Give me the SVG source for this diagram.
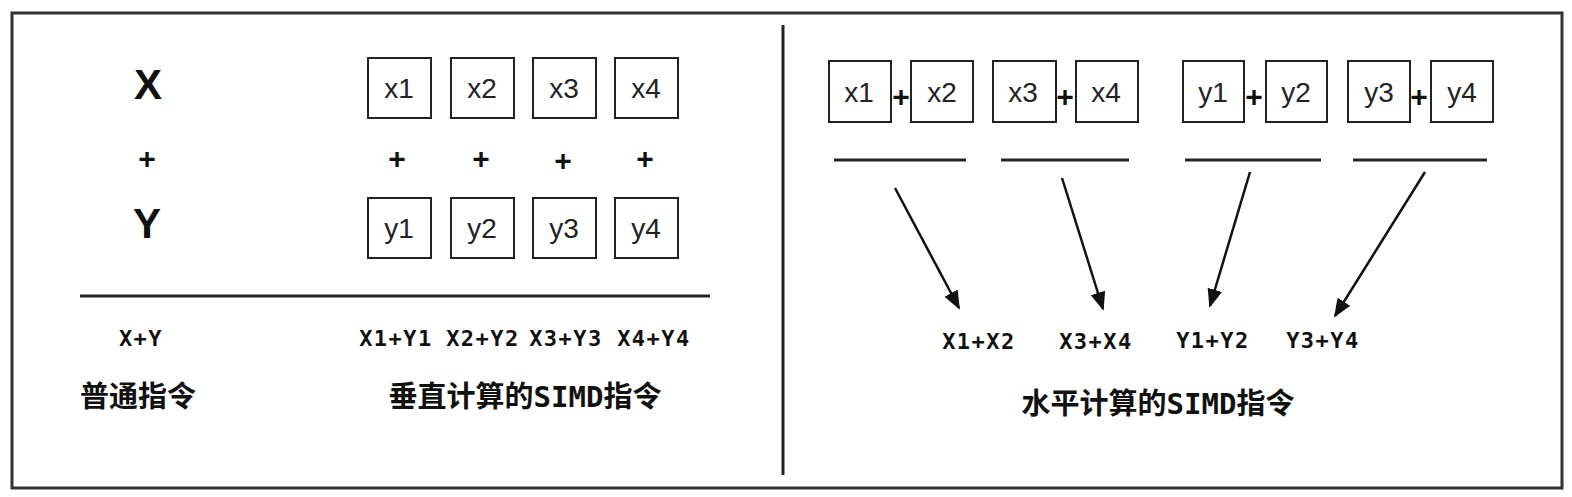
<svg xmlns="http://www.w3.org/2000/svg" width="1572" height="497" viewBox="0 0 1572 497">
<defs>
<style>
.box{fill:#fff;stroke:#222;stroke-width:2}
.bt{font-family:"Liberation Sans",Arial,sans-serif;font-size:28px;fill:#222;text-anchor:middle}
.big{font-family:"Liberation Sans",Arial,sans-serif;font-size:42px;font-weight:bold;fill:#111;text-anchor:middle}
.plus{font-family:"Liberation Sans",Arial,sans-serif;font-size:30px;font-weight:bold;fill:#111;text-anchor:middle}
.lbl{font-family:"DejaVu Sans Mono",monospace;font-size:22px;font-weight:bold;letter-spacing:1.5px;fill:#111;text-anchor:middle}
.cn{font-family:"DejaVu Sans Mono","Noto Sans CJK SC",sans-serif;font-size:29px;font-weight:bold;fill:#111;text-anchor:middle}
.ln{stroke:#222;stroke-width:3;fill:none}
.arr{stroke:#111;stroke-width:2.5;fill:none;marker-end:url(#ah)}
</style>
<marker id="ah" viewBox="0 0 10 10" refX="9" refY="5" markerWidth="7.5" markerHeight="7.5" orient="auto" markerUnits="strokeWidth">
<path d="M0,1 L10,5 L0,9 z" fill="#111"/>
</marker>
</defs>
<rect width="1572" height="497" fill="#fff"/>
<rect x="12" y="13" width="1550" height="475" fill="none" stroke="#333" stroke-width="3"/>
<line x1="783" y1="25" x2="783" y2="475" stroke="#222" stroke-width="3"/>

<g id="left-labels">
<text class="big" x="148" y="99">X</text>
<text class="plus" x="147" y="169">+</text>
<text class="big" x="147" y="238">Y</text>
</g>
<g id="lx1"><rect class="box" x="368" y="58" width="63" height="60"/><text class="bt" x="399" y="98">x1</text></g>
<g id="lx2"><rect class="box" x="451" y="58" width="63" height="60"/><text class="bt" x="482" y="98">x2</text></g>
<g id="lx3"><rect class="box" x="533" y="58" width="63" height="60"/><text class="bt" x="564" y="98">x3</text></g>
<g id="lx4"><rect class="box" x="615" y="58" width="63" height="60"/><text class="bt" x="646" y="98">x4</text></g>
<g id="lplus">
<text class="plus" x="397" y="169">+</text>
<text class="plus" x="481" y="169">+</text>
<text class="plus" x="563" y="171">+</text>
<text class="plus" x="645" y="169">+</text>
</g>
<g id="ly1"><rect class="box" x="368" y="198" width="63" height="60"/><text class="bt" x="399" y="238">y1</text></g>
<g id="ly2"><rect class="box" x="451" y="198" width="63" height="60"/><text class="bt" x="482" y="238">y2</text></g>
<g id="ly3"><rect class="box" x="533" y="198" width="63" height="60"/><text class="bt" x="564" y="238">y3</text></g>
<g id="ly4"><rect class="box" x="615" y="198" width="63" height="60"/><text class="bt" x="646" y="238">y4</text></g>
<line class="ln" x1="80" y1="296" x2="710" y2="296"/>
<g id="left-results">
<text class="lbl" x="141" y="346">X+Y</text>
<text class="lbl" x="396" y="346">X1+Y1</text>
<text class="lbl" x="483" y="346">X2+Y2</text>
<text class="lbl" x="566" y="346">X3+Y3</text>
<text class="lbl" x="654" y="346">X4+Y4</text>
<text class="cn" x="138" y="407">普通指令</text>
<text class="cn" x="525" y="407">垂直计算的SIMD指令</text>
</g>

<g id="rx1"><rect class="box" x="829" y="61" width="62" height="61"/><text class="bt" x="859" y="102">x1</text></g>
<g id="rx2"><rect class="box" x="911" y="61" width="62" height="61"/><text class="bt" x="942" y="102">x2</text></g>
<g id="rx3"><rect class="box" x="993" y="61" width="63" height="61"/><text class="bt" x="1023" y="102">x3</text></g>
<g id="rx4"><rect class="box" x="1076" y="61" width="62" height="61"/><text class="bt" x="1106" y="102">x4</text></g>
<g id="ry1"><rect class="box" x="1183" y="61" width="61" height="61"/><text class="bt" x="1213" y="102">y1</text></g>
<g id="ry2"><rect class="box" x="1266" y="61" width="61" height="61"/><text class="bt" x="1296" y="102">y2</text></g>
<g id="ry3"><rect class="box" x="1348" y="61" width="62" height="61"/><text class="bt" x="1379" y="102">y3</text></g>
<g id="ry4"><rect class="box" x="1431" y="61" width="62" height="61"/><text class="bt" x="1462" y="102">y4</text></g>
<g id="rplus">
<text class="plus" x="901" y="107">+</text>
<text class="plus" x="1065" y="107">+</text>
<text class="plus" x="1254" y="107">+</text>
<text class="plus" x="1419" y="107">+</text>
</g>
<g id="underlines">
<line class="ln" x1="834" y1="160" x2="966" y2="160"/>
<line class="ln" x1="1001" y1="160" x2="1129" y2="160"/>
<line class="ln" x1="1185" y1="160" x2="1321" y2="160"/>
<line class="ln" x1="1353" y1="160" x2="1487" y2="160"/>
</g>
<g id="connectors">
<line class="arr" x1="895" y1="188" x2="959" y2="308"/>
<line class="arr" x1="1062" y1="178" x2="1103" y2="309"/>
<line class="arr" x1="1250" y1="172" x2="1210" y2="306"/>
<line class="arr" x1="1425" y1="172" x2="1335" y2="316"/>
</g>
<g id="right-results">
<text class="lbl" x="979" y="349">X1+X2</text>
<text class="lbl" x="1096" y="349">X3+X4</text>
<text class="lbl" x="1213" y="348">Y1+Y2</text>
<text class="lbl" x="1323" y="348">Y3+Y4</text>
<text class="cn" x="1158" y="414">水平计算的SIMD指令</text>
</g>
</svg>
